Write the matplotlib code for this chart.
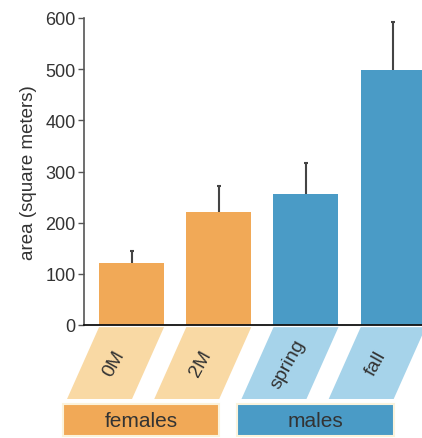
import numpy as np
import matplotlib
matplotlib.use('Agg')
import matplotlib.pyplot as plt
from matplotlib.patches import Polygon, Rectangle
import matplotlib.transforms as mtransforms

plt.rcParams['font.family'] = ['Liberation Sans', 'DejaVu Sans']

# data
categories = ['0M', '2M', 'spring', 'fall']
values = [121, 221, 256, 498]
errors = [23, 50, 60, 94]
groups = ['females', 'males']
group_members = [[0, 1], [2, 3]]
yticks = [0, 100, 200, 300, 400, 500, 600]

orange = '#F1A957'
blue = '#4A9BC6'
light_orange = '#F9D9A4'
light_blue = '#A6D3EA'
bar_colors = [orange, orange, blue, blue]
tag_colors = [light_orange, light_orange, light_blue, light_blue]
group_colors = [orange, blue]
text_col = '#333333'

fig = plt.figure(figsize=(4.22, 4.39), dpi=100)
ax = fig.add_axes([84 / 422, 1 - 326 / 439, 1 - 84 / 422, 307 / 439])

x = np.arange(len(categories))
w = 0.745
ax.bar(x, values, width=w, color=bar_colors, zorder=2)
# upper error only, small tick at the end
tops = np.array(values) + np.array(errors)
ax.vlines(x, values, tops, color='#444444', linewidth=1.5, zorder=3)
ax.plot(x, tops, linestyle='none', marker='_', markersize=3.5,
        markeredgewidth=1.5, color='#444444', zorder=3, clip_on=False)

ax.set_xlim(-0.545, 3.33)
ax.set_ylim(0, 600)
ax.set_yticks(yticks)
ax.set_xticks([])
ax.tick_params(axis='y', direction='out', length=4, width=1, color='#555555',
               labelsize=13, labelcolor=text_col, pad=2)
ax.spines['top'].set_visible(False)
ax.spines['right'].set_visible(False)
ax.spines['left'].set_color('#555555')
ax.spines['left'].set_linewidth(1.2)
ax.spines['bottom'].set_color('#111111')
ax.spines['bottom'].set_linewidth(1.3)
ax.set_ylabel('area (square meters)', fontsize=13.5, color=text_col, labelpad=6)

# slanted category tags below the axis
trans = mtransforms.blended_transform_factory(ax.transData, ax.transAxes)
top_y, bot_y = -0.007, -0.241
shift = 0.367
for i, cat in enumerate(categories):
    poly = Polygon([(i - w / 2, top_y), (i + w / 2, top_y),
                    (i + w / 2 - shift, bot_y), (i - w / 2 - shift, bot_y)],
                   closed=True, facecolor=tag_colors[i], edgecolor='none',
                   transform=trans, clip_on=False)
    ax.add_patch(poly)
    ax.text(i - shift / 2 - 0.02, (top_y + bot_y) / 2, cat, transform=trans,
            rotation=61, rotation_mode='anchor', ha='center', va='center',
            fontsize=14, color=text_col)

# group boxes
box_top, box_bot = -0.257, -0.362
for g, members in enumerate(group_members):
    x0 = members[0] - w / 2 - shift - 0.05
    x1 = members[-1] + w / 2 - shift + 0.0
    ax.add_patch(Rectangle((x0, box_bot), x1 - x0, box_top - box_bot,
                           facecolor=group_colors[g], edgecolor='#FBF3DC',
                           linewidth=1.5, transform=trans, clip_on=False))
    ax.text((x0 + x1) / 2, (box_top + box_bot) / 2, groups[g], transform=trans,
            ha='center', va='center', fontsize=15, color=text_col)

fig.savefig('out.png', dpi=100)
